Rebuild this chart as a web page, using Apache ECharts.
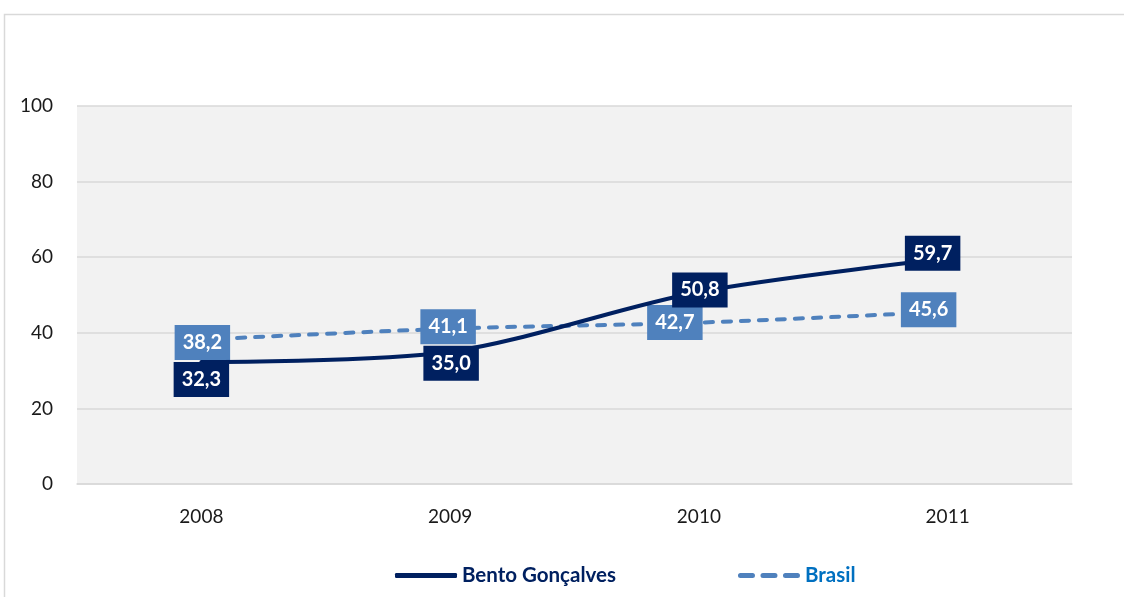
<!DOCTYPE html>
<html>
<head>
<meta charset="utf-8">
<script src="https://cdn.jsdelivr.net/npm/echarts@6/dist/echarts.min.js"></script>
<style>
  html, body { margin: 0; padding: 0; background: #fff; }
  #chart { width: 1124px; height: 597px; }
</style>
</head>
<body>
<div id="chart"></div>
<script>
const anos = ['2008', '2009', '2010', '2011']
const bentoGoncalves = [32.3, 35.0, 50.8, 59.7]
const brasil = [38.2, 41.1, 42.7, 45.6]
const yTicks = [0, 20, 40, 60, 80, 100]

const font = 'Lato, "Open Sans", sans-serif'

// formato brasileiro: vírgula decimal
const fmt = v => v.toFixed(1).replace('.', ',')

// ícone tracejado da legenda (3 traços arredondados)
const dashIcon = 'path://' + [0, 22.5, 45].map(a =>
  `M${a + 2.5},0h12a2.5,2.5 0 0 1 0,5h-12a2.5,2.5 0 0 1 0,-5z`).join('')

function labelFor (bg, i, pos, offset) {
  return {
    show: true,
    position: pos[i] || 'inside',
    offset: offset[i] || [0, 0],
    distance: 2,
    formatter: p => fmt(p.value),
    color: '#fff',
    fontFamily: font,
    fontWeight: 'bold',
    fontSize: 20,
    lineHeight: 24,
    backgroundColor: bg,
    padding: [6, 8, 5, 8]
  }
}

const chart = echarts.init(document.getElementById('chart'))

chart.setOption({
  animation: false,
  graphic: [{
    type: 'rect',
    shape: { x: 4.5, y: 14.5, width: 1300, height: 800 },
    style: { fill: 'none', stroke: '#d9d9d9', lineWidth: 1.5 },
    silent: true
  }],
  grid: {
    left: 77,
    right: 52,
    top: 106,
    bottom: 113,
    show: true,
    backgroundColor: '#f2f2f2',
    borderWidth: 0
  },
  legend: {
    bottom: 6,
    left: 390,
    itemWidth: 62,
    itemHeight: 5,
    itemGap: 122,
    textStyle: { fontFamily: font, fontWeight: 'bold', fontSize: 20.5 },
    data: [
      { name: 'Bento Gonçalves', textStyle: { color: '#002060' }, icon: 'roundRect' },
      { name: 'Brasil', textStyle: { color: '#0070c0' }, icon: dashIcon }
    ]
  },
  xAxis: {
    type: 'category',
    data: anos,
    boundaryGap: true,
    axisTick: { show: false },
    axisLine: { lineStyle: { color: '#d9d9d9', width: 1.5 } },
    axisLabel: { color: '#1a1a1a', fontFamily: font, fontSize: 19, margin: 23 }
  },
  yAxis: {
    type: 'value',
    min: yTicks[0],
    max: yTicks[yTicks.length - 1],
    interval: 20,
    axisTick: { show: false },
    axisLine: { show: false },
    axisLabel: { color: '#1a1a1a', fontFamily: font, fontSize: 19, margin: 24 },
    splitLine: { lineStyle: { color: '#d9d9d9', width: 1.5 } }
  },
  series: [
    {
      name: 'Bento Gonçalves',
      type: 'line',
      smooth: 0.3,
      symbol: 'circle',
      symbolSize: 0.1,
      itemStyle: { color: '#002060' },
      lineStyle: { color: '#002060', width: 4, cap: 'round' },
      data: bentoGoncalves.map((v, i) => ({
        value: v,
        label: labelFor('#002060', i, ['bottom', 'bottom', 'inside', 'inside'], [[0, -2], [1, -8], [1, -2], [-15, -5]])
      })),
      z: 3
    },
    {
      name: 'Brasil',
      type: 'line',
      smooth: 0.3,
      symbol: 'circle',
      symbolSize: 0.1,
      itemStyle: { color: '#4f81bd' },
      lineStyle: { color: '#4f81bd', width: 4, type: [8, 10], cap: 'round' },
      data: brasil.map((v, i) => ({
        value: v,
        label: labelFor('#4f81bd', i, [], [[1, 3], [-2, -2], [-24, 0], [-19, -2]])
      })),
      z: 2
    }
  ]
})
</script>
</body>
</html>
